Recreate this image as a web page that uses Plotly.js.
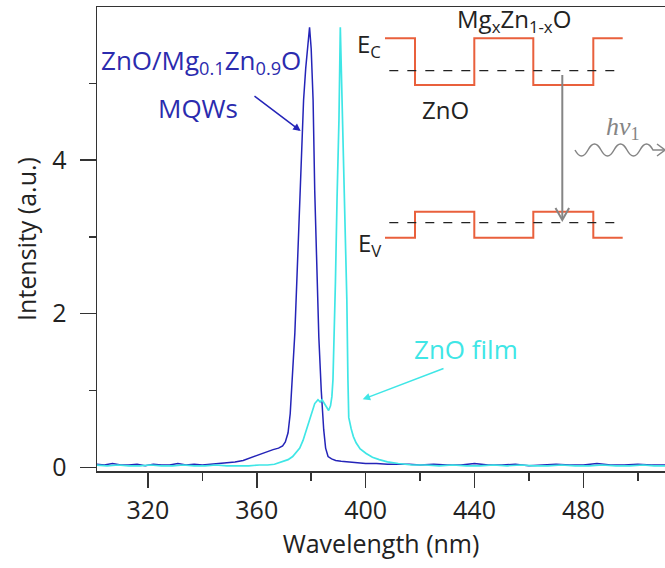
<!DOCTYPE html>
<html>
<head>
<meta charset="utf-8">
<script src="https://cdn.plot.ly/plotly-3.0.1.min.js"></script>
<style>html,body{margin:0;padding:0;background:#fff;}#chart{width:665px;height:568px;}</style>
</head>
<body>
<div id="chart"></div>
<script>
// ---- data ----
const wlMQW = [301,304,307,310,313,316,319,322,325,328,331,334,337,340,343,
  346,349,352,355,358,
  360,362,364,366,368,
  369.5,370.5,371.5,372.3,373.1,374,374.8,375.6,376.5,377.2,378,378.7,379.4,
  380,380.7,381.3,382,382.8,383.7,384.6,385.3,386.2,387.5,389,391,394,397,400,
  404,408,412,416,420,
  425,430,435,440,445,450,455,460,465,470,475,480,485,490,495,500,505,510];
const intMQW = [0.04,0.03,0.05,0.03,0.03,0.04,0.02,0.04,0.03,0.03,0.05,0.03,0.04,0.03,0.04,
  0.05,0.06,0.07,0.09,0.13,
  0.16,0.18,0.21,0.23,0.25,
  0.28,0.33,0.45,0.7,1.14,1.75,2.5,3.3,4.35,4.78,5.2,5.5,5.73,
  5.45,4.78,3.6,2.6,1.7,1.0,0.49,0.25,0.14,0.11,0.09,0.08,0.07,0.06,0.05,
  0.05,0.04,0.04,0.04,0.03,
  0.04,0.03,0.03,0.05,0.03,0.03,0.04,0.02,0.03,0.04,0.03,0.03,0.05,0.03,0.03,0.04,0.03,0.03];

const wlFilm = [301,305,309,313,317,321,325,329,333,337,341,345,349,353,357,
  361,364,366.5,368.4,370,371.5,373.2,374.5,375.8,377,378.2,379.3,380.3,381.3,382.5,383.3,384,385,386.4,
  387.1,387.6,388,388.4,388.9,389.5,390.2,390.7,391.1,391.7,392.5,393.1,393.5,393.8,
  394.7,395.5,396.5,398,400.2,402.5,405,408,412,417,
  422,427,432,437,442,447,452,457,462,467,472,477,482,487,492,497,502,506,510];
const intFilm = [0.03,0.02,0.03,0.02,0.02,0.03,0.02,0.02,0.03,0.02,0.02,0.03,0.02,0.02,0.02,
  0.03,0.03,0.04,0.06,0.08,0.1,0.14,0.19,0.25,0.35,0.49,0.62,0.74,0.83,0.88,0.85,0.88,0.82,0.74,
  0.8,0.92,1.14,1.6,2.4,3.5,4.52,5.73,5.1,4.5,3.0,2.18,1.14,0.65,
  0.5,0.4,0.32,0.24,0.18,0.13,0.1,0.07,0.05,0.03,
  0.03,0.02,0.03,0.02,0.02,0.03,0.02,0.03,0.02,0.02,0.03,0.02,0.02,0.03,0.02,0.02,0.03,0.02,0.02];

const xTickVals = [320,360,400,440,480];
const yTickVals = [0,2,4];

// ---- layout geometry ----
const W = 665, H = 568;
const M = {l:97, r:0, t:7, b:97};
const PW = W - M.l - M.r, PH = H - M.t - M.b;
const X = px => (px - M.l) / PW;
const Y = py => (H - M.b - py) / PH;

const FONT = '"Open Sans", "DejaVu Sans", sans-serif';
const BLUE = '#2424b8', BLUE_T = '#2b2bae', CYAN = '#3fe6e6', RED = '#e9603c', GRAY = '#858585';

function pathOf(pts){ return pts.map((p,i)=>(i?'L':'M')+X(p[0]).toFixed(5)+','+Y(p[1]).toFixed(5)).join(' '); }

const ecPts = [[385,38.3],[415,38.3],[415,85],[474.3,85],[474.3,38.3],[533.3,38.3],[533.3,85],[593.3,85],[593.3,38.3],[622.7,38.3]];
const evPts = [[385,237.7],[415,237.7],[415,211.7],[474.3,211.7],[474.3,237.7],[533.3,237.7],[533.3,211.7],[593.3,211.7],[593.3,237.7],[622.7,237.7]];

// wavy photon path
let wave = 'M'+X(575).toFixed(5)+','+Y(150).toFixed(5);
let wx = 575, sgn = 1;
while (wx < 651) {
  const cx = wx + 6.5, ex = wx + 13;
  wave += ' Q'+X(cx).toFixed(5)+','+Y(150 + sgn*12).toFixed(5)+' '+X(ex).toFixed(5)+','+Y(150).toFixed(5);
  wx = ex; sgn = -sgn;
}
wave += ' L'+X(664).toFixed(5)+','+Y(150).toFixed(5);

const shapes = [
  {type:'path', xref:'paper', yref:'paper', path:pathOf(ecPts), line:{color:RED, width:2}},
  {type:'path', xref:'paper', yref:'paper', path:pathOf(evPts), line:{color:RED, width:2}},
  {type:'line', xref:'paper', yref:'paper', x0:X(389.3), x1:X(616.7), y0:Y(70.7), y1:Y(70.7), line:{color:'#222', width:1.2, dash:'dash'}},
  {type:'line', xref:'paper', yref:'paper', x0:X(389.3), x1:X(616.7), y0:Y(222.7), y1:Y(222.7), line:{color:'#222', width:1.2, dash:'dash'}},
  {type:'line', xref:'paper', yref:'paper', x0:X(562.3), x1:X(562.3), y0:Y(75), y1:Y(219), line:{color:GRAY, width:2}},
  {type:'path', xref:'paper', yref:'paper', path:pathOf([[555.5,208],[562.3,220],[569.1,208]]), line:{color:GRAY, width:2}},
  {type:'path', xref:'paper', yref:'paper', path:wave, line:{color:GRAY, width:1.5}},
  {type:'path', xref:'paper', yref:'paper', path:pathOf([[657,144],[665,150],[657,156]]), line:{color:GRAY, width:1.5}}
];

const tf = (size,color)=>({family:FONT, size:size, color:color});
const annotations = [
  {xref:'paper', yref:'paper', x:X(201), y:Y(61), text:'ZnO/Mg<sub>0.1</sub>Zn<sub>0.9</sub>O', showarrow:false, font:tf(26,BLUE_T), xanchor:'center', yanchor:'middle'},
  {xref:'paper', yref:'paper', x:X(198), y:Y(108), text:'MQWs', showarrow:false, font:tf(26,BLUE_T), xanchor:'center', yanchor:'middle'},
  {xref:'paper', yref:'paper', x:X(300.7), y:Y(131), ax:-47.7, ay:-36, axref:'pixel', ayref:'pixel', text:'', showarrow:true, arrowhead:2, arrowsize:1, arrowwidth:1.5, arrowcolor:BLUE, standoff:0},
  {xref:'paper', yref:'paper', x:X(466), y:Y(349), text:'ZnO film', showarrow:false, font:tf(26,CYAN), xanchor:'center', yanchor:'middle'},
  {xref:'paper', yref:'paper', x:X(362.7), y:Y(399.3), ax:82.3, ay:-31.3, axref:'pixel', ayref:'pixel', text:'', showarrow:true, arrowhead:2, arrowsize:1, arrowwidth:1.5, arrowcolor:CYAN, standoff:0},
  {xref:'paper', yref:'paper', x:X(369), y:Y(45), text:'E<sub>C</sub>', showarrow:false, font:tf(24,'#222'), xanchor:'center', yanchor:'middle'},
  {xref:'paper', yref:'paper', x:X(369), y:Y(244), text:'E<sub>V</sub>', showarrow:false, font:tf(24,'#222'), xanchor:'center', yanchor:'middle'},
  {xref:'paper', yref:'paper', x:X(514), y:Y(20), text:'Mg<sub>x</sub>Zn<sub>1-x</sub>O', showarrow:false, font:tf(24,'#222'), xanchor:'center', yanchor:'middle'},
  {xref:'paper', yref:'paper', x:X(445), y:Y(110), text:'ZnO', showarrow:false, font:tf(24,'#222'), xanchor:'center', yanchor:'middle'},
  {xref:'paper', yref:'paper', x:X(623), y:Y(128), text:'<i>hν</i><sub>1</sub>', showarrow:false, font:{family:'"Liberation Serif", "DejaVu Serif", serif', size:26, color:GRAY}, xanchor:'center', yanchor:'middle'}
];

const traces = [
  {x:wlMQW, y:intMQW, type:'scatter', mode:'lines', line:{color:BLUE, width:1.5}, name:'ZnO/MgZnO MQWs', hoverinfo:'skip'},
  {x:wlFilm, y:intFilm, type:'scatter', mode:'lines', line:{color:CYAN, width:1.7}, name:'ZnO film', hoverinfo:'skip'}
];

const axLine = '#333';
const layout = {
  width:W, height:H,
  margin:M,
  paper_bgcolor:'#fff', plot_bgcolor:'#fff',
  showlegend:false,
  font:{family:FONT, color:'#222'},
  xaxis:{
    range:[301.3, 510.0], showgrid:false, zeroline:false,
    showline:true, linecolor:axLine, linewidth:1.5, mirror:true,
    ticks:'outside', ticklen:15, tickwidth:1.5, tickcolor:axLine,
    tickvals:xTickVals, ticktext:xTickVals.map(String),
    tickfont:{family:FONT, size:25, color:'#222'}, ticklabelstandoff:1,
    minor:{dtick:20, tick0:300, ticks:'outside', ticklen:8, tickwidth:1.5, tickcolor:axLine, showgrid:false},
    title:{text:'Wavelength (nm)', font:{family:FONT, size:25, color:'#222'}, standoff:6},
    automargin:false, fixedrange:true
  },
  yaxis:{
    range:[-0.048, 5.993], showgrid:false, zeroline:false,
    showline:true, linecolor:axLine, linewidth:1.5, mirror:false,
    ticks:'outside', ticklen:16, tickwidth:1.5, tickcolor:axLine,
    tickvals:yTickVals, ticktext:yTickVals.map(String),
    tickfont:{family:FONT, size:25, color:'#222'}, ticklabelstandoff:8,
    minor:{dtick:1, tick0:0, ticks:'outside', ticklen:7, tickwidth:1.5, tickcolor:axLine, showgrid:false},
    title:{text:'Intensity (a.u.)', font:{family:FONT, size:25, color:'#222'}, standoff:8},
    automargin:false, fixedrange:true
  },
  shapes:shapes,
  annotations:annotations
};

Plotly.newPlot('chart', traces, layout, {displayModeBar:false, staticPlot:true});
</script>
</body>
</html>
